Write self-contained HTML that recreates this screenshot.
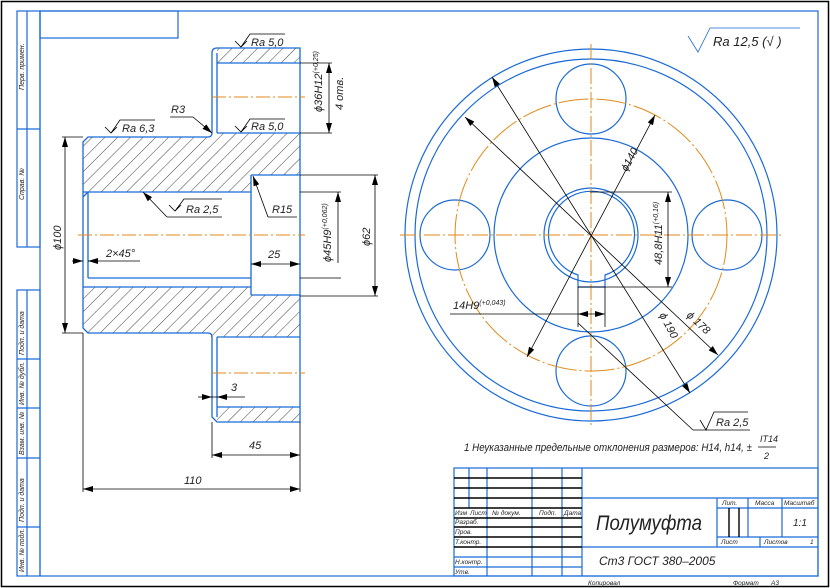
<!DOCTYPE html>
<html><head><meta charset="utf-8"><style>
html,body{margin:0;padding:0;background:#fff}
svg{display:block}
text{font-family:"Liberation Sans",sans-serif;font-style:italic;fill:#222}
</style></head><body>
<svg width="830" height="588" viewBox="0 0 830 588" xmlns="http://www.w3.org/2000/svg">
<defs>
<pattern id="h" width="9" height="9" patternUnits="userSpaceOnUse" patternTransform="rotate(45)">
<line x1="0" y1="0" x2="0" y2="9" stroke="#111" stroke-width="0.8"/>
</pattern>
<marker id="a" viewBox="0 0 10 6" refX="10" refY="3" markerWidth="10" markerHeight="6" orient="auto-start-reverse" markerUnits="userSpaceOnUse">
<path d="M0,0 L10,3 L0,6 z" fill="#000"/>
</marker>
</defs>
<rect x="1.5" y="1.5" width="827" height="585" fill="none" stroke="#000" stroke-width="1.5"/>
<g fill="none" stroke="#1a6ad6" stroke-width="1.2">
<rect x="40" y="11" width="778" height="565"/>
<rect x="40" y="11" width="138" height="27"/>
<rect x="17" y="11" width="23" height="236"/><line x1="27" y1="11" x2="27" y2="247"/><line x1="17" y1="129" x2="40" y2="129"/>
<rect x="17" y="290" width="23" height="286"/><line x1="27" y1="290" x2="27" y2="576"/>
<line x1="17" y1="359" x2="40" y2="359"/><line x1="17" y1="408" x2="40" y2="408"/><line x1="17" y1="458" x2="40" y2="458"/><line x1="17" y1="527" x2="40" y2="527"/>
</g>
<g font-size="7" fill="#333">
<text transform="translate(24,90) rotate(-90)">Перв. примен.</text>
<text transform="translate(24,200) rotate(-90)">Справ. №</text>
<text transform="translate(24,355) rotate(-90)">Подп. и дата</text>
<text transform="translate(24,405) rotate(-90)">Инв. № дубл.</text>
<text transform="translate(24,455) rotate(-90)">Взам. инв. №</text>
<text transform="translate(24,522) rotate(-90)">Подп. и дата</text>
<text transform="translate(24,572) rotate(-90)">Инв. № подл.</text>
</g>
<g fill="url(#h)" stroke="none">
<polygon points="88,137 211,137 211,133 300,133 300,175 251,175 251,192 88,192 83,187 83,142"/>
<polygon points="217,48 300,48 300,63 217,63"/>
<polygon points="88,333 211,333 211,337 300,337 300,295 251,295 251,287 83,287 83,328"/>
<polygon points="217,422 300,422 300,407 217,407"/>
</g>
<g fill="none" stroke="#1a6ad6" stroke-width="1.3">
<path d="M300,48 L217,48 Q212,48 212,53 L212,133 Q212,137 208,137 L88,137 L83,142 L83,328 L88,333 L208,333 Q212,333 212,337 L212,417 L217,422 L300,422 Z"/>
<line x1="217" y1="53" x2="217" y2="133"/><line x1="217" y1="63" x2="300" y2="63"/><line x1="217" y1="133" x2="300" y2="133"/>
<line x1="217" y1="337" x2="217" y2="417"/><line x1="217" y1="337" x2="300" y2="337"/><line x1="217" y1="407" x2="300" y2="407"/>
<line x1="83" y1="192" x2="251" y2="192"/><line x1="88" y1="192" x2="88" y2="278"/><line x1="83" y1="197" x2="88" y2="192"/>
<line x1="88" y1="278" x2="251" y2="278"/><line x1="83" y1="287" x2="251" y2="287"/>
<line x1="251" y1="175" x2="251" y2="295"/><line x1="251" y1="175" x2="300" y2="175"/><line x1="251" y1="295" x2="300" y2="295"/>
</g>
<g stroke="#e08a1a" stroke-width="1" stroke-dasharray="14,3,2,3">
<line x1="212" y1="97" x2="305" y2="97"/><line x1="78" y1="235" x2="305" y2="235"/><line x1="212" y1="373" x2="305" y2="373"/>
</g>
<g stroke="#000" stroke-width="0.8" fill="none">
<line x1="62" y1="137" x2="83" y2="137"/><line x1="62" y1="333" x2="83" y2="333"/>
<line x1="65" y1="137" x2="65" y2="333" marker-start="url(#a)" marker-end="url(#a)"/>
<line x1="72" y1="261" x2="83" y2="261" marker-end="url(#a)"/><line x1="88" y1="261" x2="140" y2="261"/><line x1="98" y1="261" x2="88" y2="261" marker-end="url(#a)"/>
<line x1="170" y1="117" x2="193" y2="117"/><line x1="193" y1="117" x2="212" y2="133" marker-end="url(#a)"/>
<line x1="300" y1="63" x2="332" y2="63"/><line x1="300" y1="133" x2="332" y2="133"/>
<line x1="329" y1="63" x2="329" y2="133" marker-start="url(#a)" marker-end="url(#a)"/>
<line x1="167" y1="217" x2="222" y2="217"/><line x1="167" y1="217" x2="143" y2="192" marker-end="url(#a)"/>
<line x1="268" y1="217" x2="297" y2="217"/><line x1="268" y1="217" x2="253" y2="176" marker-end="url(#a)"/>
<line x1="300" y1="192" x2="341" y2="192"/><line x1="300" y1="278" x2="341" y2="278"/>
<line x1="338" y1="192" x2="338" y2="263" marker-start="url(#a)"/>
<line x1="300" y1="175" x2="378" y2="175"/><line x1="300" y1="296" x2="378" y2="296"/>
<line x1="375" y1="175" x2="375" y2="296" marker-start="url(#a)" marker-end="url(#a)"/>
<line x1="251" y1="264" x2="300" y2="264" marker-start="url(#a)" marker-end="url(#a)"/>
<line x1="198" y1="397" x2="212" y2="397" marker-end="url(#a)"/><line x1="245" y1="397" x2="217" y2="397" marker-end="url(#a)"/><line x1="212" y1="397" x2="217" y2="397"/>
<line x1="212" y1="422" x2="212" y2="458"/><line x1="300" y1="422" x2="300" y2="492"/>
<line x1="212" y1="455" x2="300" y2="455" marker-start="url(#a)" marker-end="url(#a)"/>
<line x1="83" y1="333" x2="83" y2="492"/>
<line x1="83" y1="489" x2="300" y2="489" marker-start="url(#a)" marker-end="url(#a)"/>
<path d="M105,127 L111,133 L117,127 M111,133 L120,120 L155,120"/>
<path d="M235,41 L241,47 L247,41 M241,47 L250,34 L285,34"/>
<path d="M235,126 L241,132 L247,126 M241,132 L250,119 L285,119"/>
<path d="M169,205 L175,211 L181,205 M175,211 L184,199 L222,199"/>
<path d="M688,36 L698,52 L710,28 L800,28" stroke="#1a6ad6"/>
</g>
<g font-size="11">
<text x="122" y="132">Ra 6,3</text>
<text x="251" y="46">Ra 5,0</text>
<text x="251" y="130">Ra 5,0</text>
<text x="186" y="213">Ra 2,5</text>
<text x="171" y="113">R3</text>
<text x="272" y="213">R15</text>
<text x="106" y="257">2×45°</text>
<text x="268" y="258">25</text>
<text x="231" y="391">3</text>
<text x="249" y="449">45</text>
<text x="184" y="484">110</text>
<text transform="translate(61,250) rotate(-90)">ϕ100</text>
<text transform="translate(322,112) rotate(-90)">ϕ36H12<tspan font-size="7" dy="-4">(+0,25)</tspan></text>
<text transform="translate(343,110) rotate(-90)">4 отв.</text>
<text transform="translate(331,262) rotate(-90)">ϕ45H9<tspan font-size="7" dy="-4">(+0,062)</tspan></text>
<text transform="translate(370,246) rotate(-90)">ϕ62</text>
</g>
<g fill="none" stroke="#1a6ad6" stroke-width="1.2">
<circle cx="591" cy="235" r="186"/><circle cx="591" cy="235" r="176"/>
<circle cx="591" cy="235" r="97"/><circle cx="591" cy="235" r="47"/>
<path d="M605,275 A43,43 0 1 0 578,275 L578,287 L605,287 Z"/>
<circle cx="591" cy="99" r="35"/><circle cx="591" cy="371" r="35"/>
<circle cx="455" cy="235" r="35"/><circle cx="727" cy="235" r="35"/>
</g>
<g fill="none" stroke="#e08a1a" stroke-width="1">
<circle cx="591" cy="235" r="136" stroke-dasharray="30,3,2,3"/>
<g stroke-dasharray="16,3,2,3"><line x1="400" y1="235" x2="783" y2="235"/><line x1="591" y1="44" x2="591" y2="425"/></g>
</g>
<g stroke="#000" stroke-width="0.8" fill="none">
<line x1="655" y1="115" x2="527" y2="357" marker-start="url(#a)" marker-end="url(#a)"/>
<line x1="492" y1="77" x2="690" y2="393" marker-start="url(#a)" marker-end="url(#a)"/>
<line x1="465" y1="117" x2="718" y2="355" marker-start="url(#a)" marker-end="url(#a)"/>
<line x1="590" y1="192" x2="672" y2="192"/><line x1="578" y1="287" x2="672" y2="287"/>
<line x1="668" y1="192" x2="668" y2="287" marker-start="url(#a)" marker-end="url(#a)"/>
<line x1="578" y1="287" x2="578" y2="327"/><line x1="605" y1="287" x2="605" y2="327"/>
<line x1="450" y1="314" x2="578" y2="314"/><line x1="578" y1="314" x2="605" y2="314" marker-start="url(#a)" marker-end="url(#a)"/>
<line x1="578" y1="323" x2="693" y2="430"/><line x1="693" y1="430" x2="750" y2="430"/>
<path d="M700,420 L706,430 L714,412 L748,412"/>
</g>
<g font-size="11">
<text x="713" y="46" font-size="13">Ra 12,5 (√ )</text>
<text x="716" y="426">Ra 2,5</text>
<text transform="translate(627,172) rotate(-62)">ϕ140</text>
<text transform="translate(659,315) rotate(62)">ϕ 190</text>
<text transform="translate(686,316) rotate(43)">ϕ 178</text>
<text transform="translate(662,265) rotate(-90)">48,8H11<tspan font-size="7" dy="-4">(+0,16)</tspan></text>
<text x="453" y="309">14H9<tspan font-size="7" dy="-4">(+0,043)</tspan></text>
<text x="464" y="451" textLength="288" lengthAdjust="spacingAndGlyphs">1 Неуказанные предельные отклонения размеров: H14, h14, ±</text>
<text x="760" y="442" font-size="9">IT14</text>
<text x="764" y="459" font-size="9">2</text>
</g>
<line x1="758" y1="447" x2="776" y2="447" stroke="#000" stroke-width="0.8"/>
<g fill="none" stroke="#1a6ad6" stroke-width="1.2">
<rect x="454" y="468" width="364" height="108"/>
<line x1="469" y1="468" x2="469" y2="508"/><line x1="487" y1="468" x2="487" y2="576"/><line x1="532" y1="468" x2="532" y2="576"/><line x1="562" y1="468" x2="562" y2="576"/><line x1="582" y1="468" x2="582" y2="576"/>
<line x1="582" y1="498" x2="818" y2="498"/><line x1="582" y1="547" x2="818" y2="547"/>
<line x1="717" y1="498" x2="717" y2="547"/><line x1="748" y1="498" x2="748" y2="537"/><line x1="782" y1="498" x2="782" y2="537"/><line x1="760" y1="537" x2="760" y2="547"/>
<line x1="717" y1="508" x2="818" y2="508"/><line x1="717" y1="537" x2="818" y2="537"/>
<line x1="454" y1="557" x2="582" y2="557"/><line x1="454" y1="567" x2="582" y2="567"/>
</g>
<g stroke="#000" stroke-width="1.4">
<line x1="454" y1="478" x2="582" y2="478"/><line x1="454" y1="488" x2="582" y2="488"/><line x1="454" y1="498" x2="582" y2="498"/><line x1="454" y1="508" x2="582" y2="508"/>
<line x1="454" y1="518" x2="582" y2="518"/><line x1="454" y1="527" x2="582" y2="527"/><line x1="454" y1="537" x2="582" y2="537"/><line x1="454" y1="547" x2="582" y2="547"/>
<line x1="729" y1="508" x2="729" y2="537"/><line x1="739" y1="508" x2="739" y2="537"/>
</g>
<g font-size="6.5" fill="#333">
<text x="455" y="515">Изм</text><text x="470" y="515">Лист</text><text x="492" y="515">№ докум.</text><text x="539" y="515">Подп.</text><text x="564" y="515">Дата</text>
<text x="455" y="524">Разраб.</text><text x="455" y="534">Пров.</text><text x="455" y="544">Т.контр.</text><text x="455" y="564">Н.контр.</text><text x="455" y="574">Утв.</text>
<text x="722" y="505">Лит.</text><text x="755" y="505">Масса</text><text x="784" y="505">Масштаб</text>
<text x="721" y="544">Лист</text><text x="764" y="544">Листов</text><text x="810" y="544">1</text>
<text x="588" y="585">Копировал</text><text x="733" y="585">Формат</text><text x="771" y="585">A3</text>
</g>
<text x="596" y="530" font-size="21" textLength="106" lengthAdjust="spacingAndGlyphs">Полумуфта</text>
<text x="599" y="565" font-size="12">Ст3 ГОСТ 380–2005</text>
<text x="793" y="526" font-size="10">1:1</text>
</svg>
</body></html>
